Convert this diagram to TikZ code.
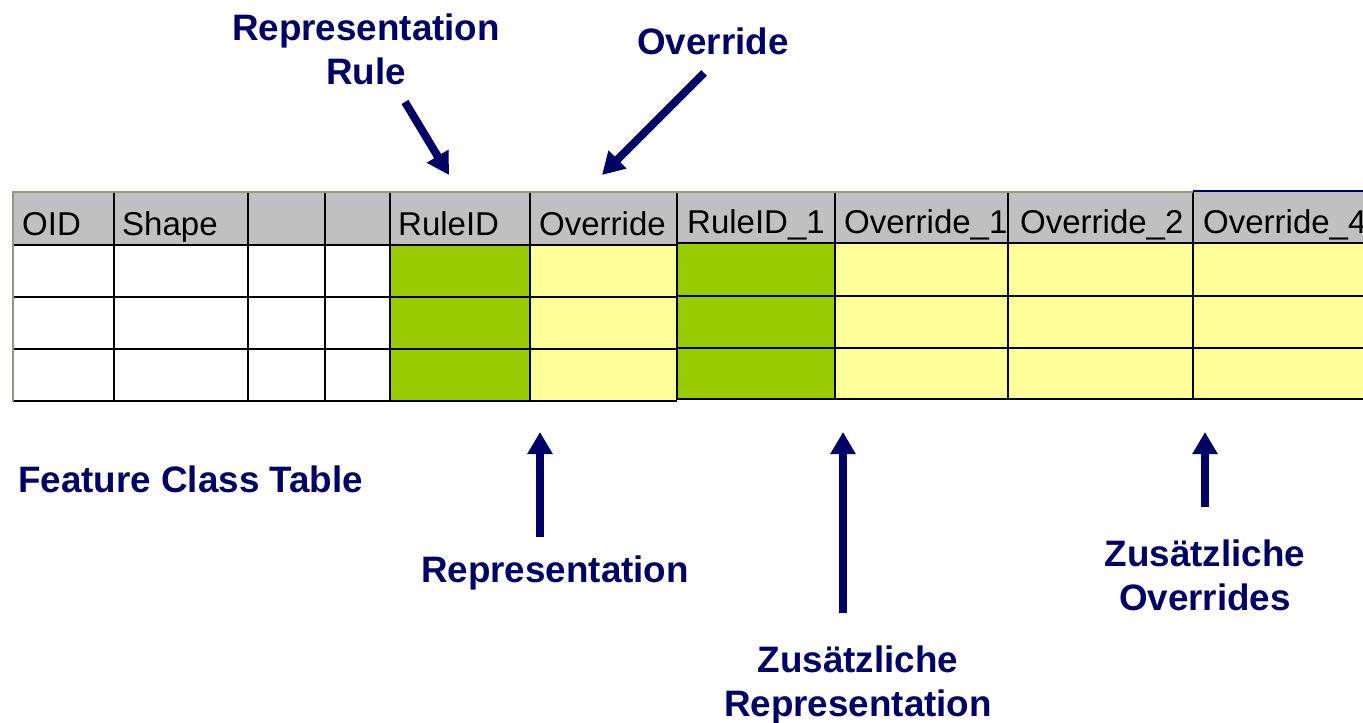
\documentclass[tikz,border=0pt]{standalone}
\usepackage{fontspec}
\setmainfont{Liberation Sans}
\usetikzlibrary{arrows.meta}

\definecolor{navy}{RGB}{0,0,102}
\definecolor{rulegreen}{RGB}{153,204,0}
\definecolor{ovryellow}{RGB}{255,255,153}
\definecolor{headgray}{RGB}{192,192,192}
\definecolor{edgegray}{RGB}{150,150,130}

\tikzset{
  lbl/.style={text=navy, font=\fontsize{36.8}{43.5}\selectfont\bfseries, align=center, inner sep=0pt},
  hdr/.style={anchor=base west, font=\fontsize{33}{33}\selectfont, inner sep=0pt},
  grid/.style={line width=1.6pt, black},
  bigarrow/.style={draw=navy, line width=8pt, -{Triangle[width=24pt,length=22pt]}}
}

\begin{document}
\begin{tikzpicture}[x=1pt,y=-1pt]
  \useasboundingbox (0,0) rectangle (1363,723);
  \begin{scope}
    \clip (0,0) rectangle (1363,723);
    % left part of the table
    \fill[headgray] (13,192) rectangle (677,245);
    \fill[white] (13,245) rectangle (390,401);
    \fill[rulegreen] (390,245) rectangle (530,401);
    \fill[ovryellow] (530,245) rectangle (677,401);
    % right part of the table
    \fill[headgray] (677,192) rectangle (1363,243);
    \fill[rulegreen] (677,243) rectangle (835,399);
    \fill[ovryellow] (835,243) rectangle (1363,399);

    \foreach \y in {245,297,349,401}{
      \draw[grid] (13,\y) -- (677,\y);
    }
    \foreach \y in {243,296,348,399}{
      \draw[grid] (677,\y) -- (1363,\y);
    }
    \foreach \x in {114,248,325,390,530}{
      \draw[grid] (\x,192) -- (\x,401);
    }
    \foreach \x in {677,835,1008,1193}{
      \draw[grid] (\x,192) -- (\x,400);
    }
    \draw[edgegray, line width=1.6pt] (13,401) -- (13,192) -- (1193,192);
    \draw[navy, line width=1.2pt] (1193,191) -- (1363,191);

    \foreach \i/\x/\t in {oid/22/OID, shape/122/Shape, ruleid/398/RuleID, override/539/Override}{
      \node[hdr] (h-\i) at (\x,235) {\t};
    }
    \foreach \i/\x/\t in {ruleidA/687/RuleID\_1, overrideA/844/Override\_1, overrideB/1020/Override\_2, overrideD/1203/Override\_4}{
      \node[hdr] (h-\i) at (\x,233) {\t};
    }
  \end{scope}

  \node[lbl, anchor=north] (reprule) at (366,14) {Representation\\Rule};
  \node[lbl, anchor=north] (override) at (713,28) {Override};
  \node[lbl, anchor=north west] (fctable) at (18,466) {Feature Class Table};
  \node[lbl, anchor=north] (repr) at (555,556) {Representation};
  \node[lbl, anchor=north] (addrepr) at (858,646) {Zusätzliche\\Representation};
  \node[lbl, anchor=north] (addovr) at (1205,540) {Zusätzliche\\Overrides};

  \coordinate (rr-tail) at (405,102);
  \coordinate (rr-tip) at (449,175);
  \coordinate (ov-tail) at (704,73);
  \coordinate (ov-tip) at (602,175);
  \coordinate (re-tail) at (540,537);
  \coordinate (re-tip) at (540,432);
  \coordinate (ar-tail) at (843,613);
  \coordinate (ar-tip) at (843,432);
  \coordinate (ao-tail) at (1205,507);
  \coordinate (ao-tip) at (1205,432);

  \draw[bigarrow] (rr-tail) -- (rr-tip);
  \draw[bigarrow] (ov-tail) -- (ov-tip);
  \draw[bigarrow] (re-tail) -- (re-tip);
  \draw[bigarrow] (ar-tail) -- (ar-tip);
  \draw[bigarrow] (ao-tail) -- (ao-tip);
\end{tikzpicture}
\end{document}
